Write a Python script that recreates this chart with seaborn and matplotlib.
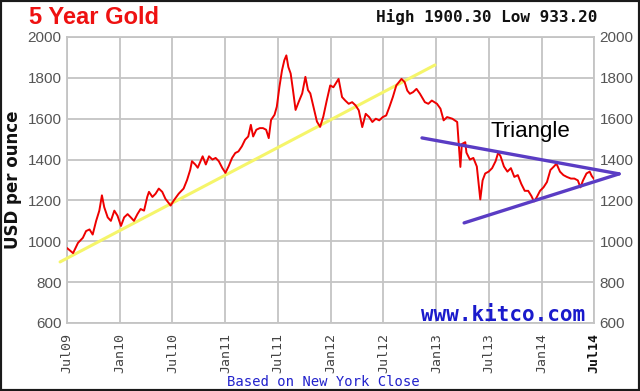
import matplotlib
matplotlib.use('Agg')
import matplotlib.pyplot as plt
from matplotlib.patches import Rectangle
import pandas as pd
import seaborn as sns

# days after 2009-07-01
day_offsets = [
    0, 21, 38, 55, 66, 78, 89, 101, 112, 121, 129, 141, 152, 164, 175, 187, 198, 210,
    221, 232, 244, 255, 267, 278, 284, 296, 307, 318, 330, 341, 359, 370, 387, 404,
    416, 427, 433, 445, 453, 470, 481, 492, 504, 515, 526, 538, 549, 560, 572, 583,
    594, 606, 617, 628, 637, 645, 656, 668, 679, 690, 699, 707, 719, 727, 736, 745,
    753, 760, 767, 775, 783, 792, 803, 815, 826, 835, 843, 854, 866, 877, 888, 900,
    912, 923, 941, 953, 964, 976, 988, 1000, 1011, 1023, 1035, 1047, 1058, 1070, 1082,
    1094, 1106, 1117, 1129, 1141, 1159, 1170, 1179, 1188, 1199, 1211, 1223, 1240, 1252,
    1264, 1282, 1294, 1305, 1317, 1335, 1352, 1358, 1363, 1368, 1380, 1384, 1396, 1408,
    1420, 1432, 1440, 1449, 1461, 1473, 1485, 1494, 1502, 1514, 1526, 1538, 1550, 1562,
    1574, 1586, 1598, 1609, 1618, 1627, 1639, 1651, 1663, 1675, 1687, 1696, 1708, 1720,
    1732, 1746, 1758, 1770, 1779, 1788, 1800, 1811, 1818, 1826,
]
gold_usd = [
    967, 942, 992, 1017, 1050, 1058, 1033, 1100, 1150, 1225, 1167, 1117, 1100, 1150, 1125, 1075, 1117, 1133,
    1117, 1100, 1133, 1158, 1150, 1217, 1242, 1217, 1233, 1258, 1242, 1208, 1175, 1200, 1233, 1258,
    1300, 1350, 1392, 1375, 1360, 1416, 1376, 1416, 1400, 1408, 1392, 1359, 1335, 1367, 1408, 1432,
    1440, 1465, 1497, 1513, 1570, 1513, 1546, 1554, 1554, 1546, 1505, 1594, 1619, 1659, 1756, 1837,
    1886, 1910, 1853, 1821, 1740, 1643, 1683, 1724, 1805, 1740, 1724, 1659, 1586, 1560, 1610, 1689,
    1763, 1754, 1795, 1706, 1689, 1673, 1681, 1665, 1641, 1559, 1624, 1608, 1584, 1600, 1592,
    1608, 1616, 1657, 1706, 1763, 1795, 1779, 1738, 1722, 1730, 1746, 1722, 1681, 1673,
    1689, 1673, 1649, 1592, 1608, 1600, 1584, 1462, 1364, 1476, 1485, 1434, 1400, 1408,
    1366, 1205, 1298, 1332, 1341, 1358, 1392, 1434, 1417, 1366, 1341, 1358, 1315, 1324,
    1281, 1247, 1247, 1222, 1195, 1214, 1247, 1264, 1290, 1349, 1366, 1380, 1341, 1324,
    1315, 1307, 1307, 1298, 1264, 1298, 1332, 1341, 1320, 1305,
]

tick_dates = ['2009-07-01', '2010-01-01', '2010-07-01', '2011-01-01', '2011-07-01', '2012-01-01',
              '2012-07-01', '2013-01-01', '2013-07-01', '2014-01-01', '2014-07-01']
tick_labels = ['Jul09', 'Jan10', 'Jul10', 'Jan11', 'Jul11', 'Jan12',
               'Jul12', 'Jan13', 'Jul13', 'Jan14', 'Jul14']
y_ticks = [600, 800, 1000, 1200, 1400, 1600, 1800, 2000]

# hand-drawn trend lines (start, end)
support_dates = ['2009-06-07', '2012-12-27']
support_usd = [899, 1863]
upper_dates = ['2012-11-12', '2014-09-26']
upper_usd = [1506, 1330]
lower_dates = ['2013-04-07', '2014-09-26']
lower_usd = [1090, 1330]

sns.set_theme(style="whitegrid")
plt.rcParams['font.family'] = ['Liberation Sans', 'DejaVu Sans']

dates = pd.Timestamp('2009-07-01') + pd.to_timedelta(day_offsets, unit='D')
df = pd.DataFrame({'date': dates, 'usd': gold_usd})

fig = plt.figure(figsize=(6.4, 3.91), dpi=100, facecolor='white')
ax = fig.add_axes([67 / 640, 68 / 391, 527 / 640, 286 / 391])
ax.set_facecolor('white')

grid_c = '#c4c4c4'
ax.grid(True, color=grid_c, linewidth=1.3)
for s in ax.spines.values():
    s.set_color(grid_c)
    s.set_linewidth(1.3)

ax.plot(pd.to_datetime(support_dates), support_usd, color='#f5f56a', linewidth=2.2,
        clip_on=False, zorder=3)
sns.lineplot(data=df, x='date', y='usd', ax=ax, color='#ee0000', linewidth=1.4, zorder=4)
ax.plot(pd.to_datetime(upper_dates), upper_usd, color='#5a3cc4', linewidth=2.4,
        clip_on=False, zorder=5)
ax.plot(pd.to_datetime(lower_dates), lower_usd, color='#5a3cc4', linewidth=2.4,
        clip_on=False, zorder=5)

ax.set_xlim(pd.Timestamp(tick_dates[0]), pd.Timestamp(tick_dates[-1]))
ax.set_ylim(600, 2000)
ax.set_xticks(pd.to_datetime(tick_dates))
ax.set_xticklabels(tick_labels, rotation=90, family='DejaVu Sans Mono', fontsize=9.5, color='#444444')
ax.get_xticklabels()[-1].set_fontweight('bold')
ax.get_xticklabels()[-1].set_color('#111111')
ax.set_yticks(y_ticks)
ax.set_yticklabels([str(v) for v in y_ticks])
ax.tick_params(axis='y', length=0, pad=4, labelsize=11, labelcolor='#555555',
               labelleft=True, labelright=True)
ax.tick_params(axis='x', length=0, pad=7)
ax.set_xlabel('')
ax.set_ylabel('USD per ounce', family='DejaVu Sans', fontweight='bold', fontsize=12,
              color='#111111', labelpad=4)

ax.text(pd.Timestamp('2013-07-06'), 1510, 'Triangle', fontsize=16, color='black',
        ha='left', va='baseline', zorder=6)

fig.text(29 / 640, 1 - 17 / 391, '5 Year Gold', color='#ee1111', fontsize=17,
         fontweight='bold', ha='left', va='center')
fig.text(597 / 640, 1 - 17 / 391, 'High 1900.30 Low 933.20', family='DejaVu Sans Mono',
         fontweight='bold', fontsize=11.5, color='#111111', ha='right', va='center')
fig.text(585 / 640, 1 - 321 / 391, 'www.kitco.com', family='DejaVu Sans Mono',
         fontweight='bold', fontsize=15, color='#1a1acc', ha='right', va='baseline', zorder=7)
fig.text(323 / 640, 1 - 382 / 391, 'Based on New York Close', family='DejaVu Sans Mono',
         fontsize=10, color='#2222cc', ha='center', va='center')

fig.patches.append(Rectangle((0, 0), 1, 1, transform=fig.transFigure, fill=False,
                             edgecolor='#1a1a1a', linewidth=3))

fig.savefig('out.png', dpi=100, facecolor='white')
